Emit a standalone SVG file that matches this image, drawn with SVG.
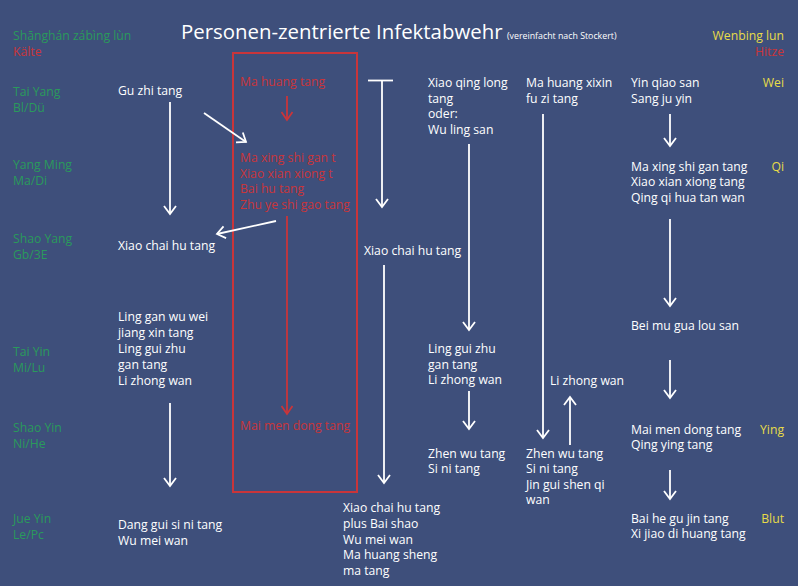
<svg xmlns="http://www.w3.org/2000/svg" width="798" height="586" viewBox="0 0 798 586">
<defs>
<style>
text{font-family:"Open Sans","Liberation Sans",sans-serif;font-size:12.2px}
.w{fill:#ffffff}
.g{fill:#2a9a5c}
.r{fill:#c9353a}
.y{fill:#e8dc48}
.t{font-size:20.4px;fill:#ffffff}
.s{font-size:8.8px;fill:#ffffff}
.e{text-anchor:end}
.lw{stroke:#ffffff;stroke-width:1.8;fill:none}
.lr{stroke:#c9353a;stroke-width:1.8;fill:none}
</style>
<marker id="aw" viewBox="-10 -8 12 16" refX="0" refY="0" markerWidth="12" markerHeight="16" markerUnits="userSpaceOnUse" orient="auto">
<path d="M-8,-6 L0,0 L-8,6" fill="none" stroke="#ffffff" stroke-width="1.8"/>
</marker>
<marker id="ar" viewBox="-10 -8 12 16" refX="0" refY="0" markerWidth="12" markerHeight="16" markerUnits="userSpaceOnUse" orient="auto">
<path d="M-8,-5.5 L0,0 L-8,5.5" fill="none" stroke="#c9353a" stroke-width="1.8"/>
</marker>
</defs>
<rect x="0" y="0" width="798" height="586" fill="#3e4f7b"/>

<g id="title">
<text class="t" x="181" y="39">Personen-zentrierte Infektabwehr</text>
<text class="s" x="507" y="39">(vereinfacht nach Stockert)</text>
</g>

<g id="labels-left">
<text class="g" x="13" y="40">Shānghán zábìng lùn</text>
<text class="r" x="13" y="56">Kälte</text>
<text class="g" x="13" y="96">Tai Yang</text>
<text class="g" x="13" y="112">Bl/Dü</text>
<text class="g" x="13" y="168.5">Yang Ming</text>
<text class="g" x="13" y="184.5">Ma/Di</text>
<text class="g" x="13" y="242.5">Shao Yang</text>
<text class="g" x="13" y="258.5">Gb/3E</text>
<text class="g" x="13" y="356">Tai Yin</text>
<text class="g" x="13" y="372">Mi/Lu</text>
<text class="g" x="13" y="431.5">Shao Yin</text>
<text class="g" x="13" y="447.5">Ni/He</text>
<text class="g" x="13" y="523">Jue Yin</text>
<text class="g" x="13" y="539">Le/Pc</text>
</g>

<g id="labels-right">
<text class="y e" x="784" y="40">Wenbing lun</text>
<text class="r e" x="784" y="56">Hitze</text>
<text class="y e" x="784" y="87">Wei</text>
<text class="y e" x="784" y="171">Qi</text>
<text class="y e" x="784" y="433.5">Ying</text>
<text class="y e" x="784" y="522.5">Blut</text>
</g>

<g id="col1">
<text class="w" x="118" y="95">Gu zhi tang</text>
<text class="w" x="118" y="250">Xiao chai hu tang</text>
<text class="w" x="118" y="320.5">Ling gan wu wei</text>
<text class="w" x="118" y="336.5">jiang xin tang</text>
<text class="w" x="118" y="352.5">Ling gui zhu</text>
<text class="w" x="118" y="368.5">gan tang</text>
<text class="w" x="118" y="384.5">Li zhong wan</text>
<text class="w" x="118" y="529">Dang gui si ni tang</text>
<text class="w" x="118" y="545">Wu mei wan</text>
</g>

<g id="redbox">
<rect x="233" y="53" width="124" height="439" fill="none" stroke="#c9353a" stroke-width="2"/>
<text class="r" x="240" y="86">Ma huang tang</text>
<text class="r" x="240" y="162">Ma xing shi gan t</text>
<text class="r" x="240" y="177.7">Xiao xian xiong t</text>
<text class="r" x="240" y="193.4">Bai hu tang</text>
<text class="r" x="240" y="209.1">Zhu ye shi gao tang</text>
<text class="r" x="240" y="430">Mai men dong tang</text>
</g>

<g id="col2">
<text class="w" x="364" y="255">Xiao chai hu tang</text>
<text class="w" x="343" y="512">Xiao chai hu tang</text>
<text class="w" x="343" y="527.8">plus Bai shao</text>
<text class="w" x="343" y="543.6">Wu mei wan</text>
<text class="w" x="343" y="559.4">Ma huang sheng</text>
<text class="w" x="343" y="575.2">ma tang</text>
</g>

<g id="col3">
<text class="w" x="428" y="87">Xiao qing long</text>
<text class="w" x="428" y="102.6">tang</text>
<text class="w" x="428" y="118.2">oder:</text>
<text class="w" x="428" y="133.8">Wu ling san</text>
<text class="w" x="428" y="353">Ling gui zhu</text>
<text class="w" x="428" y="368.6">gan tang</text>
<text class="w" x="428" y="384.2">Li zhong wan</text>
<text class="w" x="428" y="457.5">Zhen wu tang</text>
<text class="w" x="428" y="473.1">Si ni tang</text>
</g>

<g id="col4">
<text class="w" x="526" y="87">Ma huang xixin</text>
<text class="w" x="526" y="102.6">fu zi tang</text>
<text class="w" x="550" y="385">Li zhong wan</text>
<text class="w" x="526" y="457.5">Zhen wu tang</text>
<text class="w" x="526" y="473.1">Si ni tang</text>
<text class="w" x="526" y="488.7">Jin gui shen qi</text>
<text class="w" x="526" y="504.3">wan</text>
</g>

<g id="col5">
<text class="w" x="631" y="87">Yin qiao san</text>
<text class="w" x="631" y="102.6">Sang ju yin</text>
<text class="w" x="631" y="170.5">Ma xing shi gan tang</text>
<text class="w" x="631" y="186.1">Xiao xian xiong tang</text>
<text class="w" x="631" y="201.7">Qing qi hua tan wan</text>
<text class="w" x="631" y="330">Bei mu gua lou san</text>
<text class="w" x="631" y="433.5">Mai men dong tang</text>
<text class="w" x="631" y="449.1">Qing ying tang</text>
<text class="w" x="631" y="522.5">Bai he gu jin tang</text>
<text class="w" x="631" y="538.1">Xi jiao di huang tang</text>
</g>

<g id="connectors">
<line class="lw" x1="170" y1="102" x2="170" y2="214" marker-end="url(#aw)"/>
<line class="lw" x1="170" y1="403" x2="170" y2="486" marker-end="url(#aw)"/>
<line class="lw" x1="204" y1="113" x2="246" y2="142" marker-end="url(#aw)"/>
<line class="lw" x1="276" y1="221" x2="217" y2="234" marker-end="url(#aw)"/>
<line class="lr" x1="287" y1="96" x2="287" y2="120" marker-end="url(#ar)"/>
<line class="lr" x1="287" y1="216" x2="287" y2="414" marker-end="url(#ar)"/>
<line class="lw" x1="368" y1="80.5" x2="393" y2="80.5"/>
<line class="lw" x1="382" y1="80.5" x2="382" y2="207" marker-end="url(#aw)"/>
<line class="lw" x1="384" y1="265" x2="384" y2="483" marker-end="url(#aw)"/>
<line class="lw" x1="469" y1="144" x2="469" y2="330" marker-end="url(#aw)"/>
<line class="lw" x1="469" y1="391" x2="469" y2="429" marker-end="url(#aw)"/>
<line class="lw" x1="543" y1="114" x2="543" y2="438" marker-end="url(#aw)"/>
<line class="lw" x1="570" y1="445" x2="570" y2="397" marker-end="url(#aw)"/>
<line class="lw" x1="670" y1="114" x2="670" y2="146" marker-end="url(#aw)"/>
<line class="lw" x1="670" y1="219" x2="670" y2="306" marker-end="url(#aw)"/>
<line class="lw" x1="670" y1="360" x2="670" y2="398" marker-end="url(#aw)"/>
<line class="lw" x1="670" y1="470" x2="670" y2="499" marker-end="url(#aw)"/>
</g>
</svg>
